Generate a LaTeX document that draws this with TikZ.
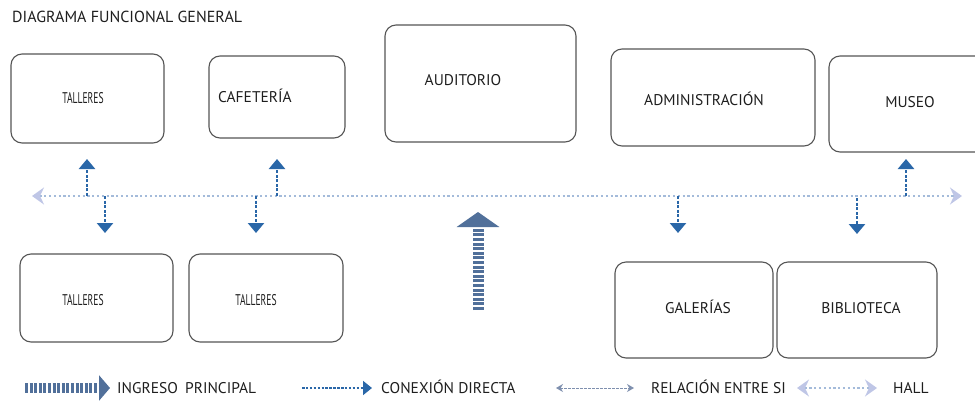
\documentclass[tikz,border=0pt]{standalone}
\usepackage{fontspec}
\setmainfont{PT Sans}
\newfontfamily\narrowfont[FakeStretch=0.62]{PT Sans}
\usetikzlibrary{arrows.meta}
\definecolor{boxgray}{HTML}{555555}
\definecolor{textgray}{HTML}{1E1E1E}
\definecolor{conblue}{HTML}{2A67A8}
\definecolor{ingblue}{HTML}{51709A}
\definecolor{halldot}{HTML}{A4BBDA}
\definecolor{hallhead}{HTML}{BFC6E6}
\definecolor{relgray}{HTML}{7E8FAE}

\begin{document}
\begin{tikzpicture}[x=1pt,y=-1pt,
	espacio/.style={draw=boxgray,line width=1.1pt,rounded corners=11pt,inner sep=0pt},
	rotulo/.style={font=\fontsize{15.5}{15}\selectfont,text=textgray,inner sep=0pt,text height=10.5pt,text depth=0pt},
	angosto/.style={rotulo,font=\fontsize{15.5}{15}\narrowfont},
	leyenda/.style={rotulo,font=\fontsize{15.5}{15}\selectfont,anchor=west},
	conexion/.style={conblue,line width=2.5pt,dash pattern=on 3pt off 1.6pt,-{Triangle[length=10pt,width=16pt]}},
	hall/.style={halldot,line width=2.2pt,dash pattern=on 2.2pt off 2.6pt,{Stealth[length=12pt,width=17pt,inset=4pt,hallhead]}-{Stealth[length=12pt,width=17pt,inset=4pt,hallhead]}},
	ingreso/.style={ingblue,line width=11pt,dash pattern=on 3pt off 1.6pt,-{Triangle[length=15pt,width=42pt]}}]
	\useasboundingbox (0,0) rectangle (975,402);
	% titulo
	\node[rotulo,anchor=west,font=\fontsize{16}{16}\selectfont,text height=10.5pt] (titulo) at (12,17) {DIAGRAMA FUNCIONAL GENERAL};
	% espacios de arriba
	\node[espacio,minimum width=153,minimum height=89] (tal1) at (87.5,98.5) {};
	\node[espacio,minimum width=136,minimum height=82] (caf) at (277,97) {};
	\node[espacio,minimum width=191,minimum height=117] (aud) at (480.5,83.5) {};
	\node[espacio,minimum width=204,minimum height=97] (adm) at (713,97.5) {};
	\node[espacio,minimum width=163,minimum height=96] (mus) at (910.5,104) {};
	% espacios de abajo
	\node[espacio,minimum width=153,minimum height=88] (tal2) at (96.5,298) {};
	\node[espacio,minimum width=154,minimum height=88] (tal3) at (266,298) {};
	\node[espacio,minimum width=158,minimum height=96] (gal) at (694,310) {};
	\node[espacio,minimum width=160,minimum height=96] (bib) at (857,310) {};
	% rotulos
	\node[angosto] (tal1t) at (83,98) {TALLERES};
	\node[rotulo,anchor=west] (caft) at (218,97) {CAFETERÍA};
	\node[rotulo] (audt) at (463,80) {AUDITORIO};
	\node[rotulo] (admt) at (704,100) {ADMINISTRACIÓN};
	\node[rotulo] (must) at (910,102) {MUSEO};
	\node[angosto] (tal2t) at (83,300) {TALLERES};
	\node[angosto] (tal3t) at (256,300) {TALLERES};
	\node[rotulo] (galt) at (698,308) {GALERÍAS};
	\node[rotulo] (bibt) at (861,308) {BIBLIOTECA};
	% hall
	\coordinate (hallW) at (32,196);
	\coordinate (hallE) at (962,196);
	\draw[hall] (hallW) -- (hallE);
	% conexiones directas
	\foreach \x/\ya/\yb/\n in {87/196/159/a,105/196/233/b,277/196/159/c,256/196/233/d,678/196/233/e,857/198/234/f,906/196/159/g}{
		\coordinate (c\n1) at (\x,\ya);
		\coordinate (c\n2) at (\x,\yb);
		\draw[conexion] (c\n1) -- (c\n2);
	}
	% ingreso principal
	\coordinate (ingB) at (478,310);
	\coordinate (ingT) at (478,212);
	\draw[ingreso] (ingB) -- (ingT);
	% leyenda
	\coordinate (l1a) at (25,388);
	\coordinate (l1b) at (110,388);
	\draw[ingreso,line width=10pt,-{Triangle[length=11pt,width=25pt]}] (l1a) -- (l1b);
	\node[leyenda] (l1t) at (117,388) {INGRESO\hspace{3pt} PRINCIPAL};
	\coordinate (l2a) at (302,388);
	\coordinate (l2b) at (372,388);
	\draw[conexion,line width=1.8pt,dash pattern=on 2.5pt off 1.4pt,-{Triangle[length=9pt,width=14pt]}] (l2a) -- (l2b);
	\node[leyenda] (l2t) at (381,388) {CONEXIÓN DIRECTA};
	\coordinate (l3a) at (556,388);
	\coordinate (l3b) at (634,388);
	\draw[relgray,line width=1pt,dash pattern=on 2.5pt off 1.5pt,{Stealth[length=7pt,width=8pt]}-{Stealth[length=7pt,width=8pt]}] (l3a) -- (l3b);
	\node[leyenda] (l3t) at (651,388) {RELACIÓN ENTRE SI};
	\coordinate (l4a) at (797,388);
	\coordinate (l4b) at (877,388);
	\draw[hall,line width=1.5pt] (l4a) -- (l4b);
	\node[leyenda] (l4t) at (893,388) {HALL};
\end{tikzpicture}
\end{document}
